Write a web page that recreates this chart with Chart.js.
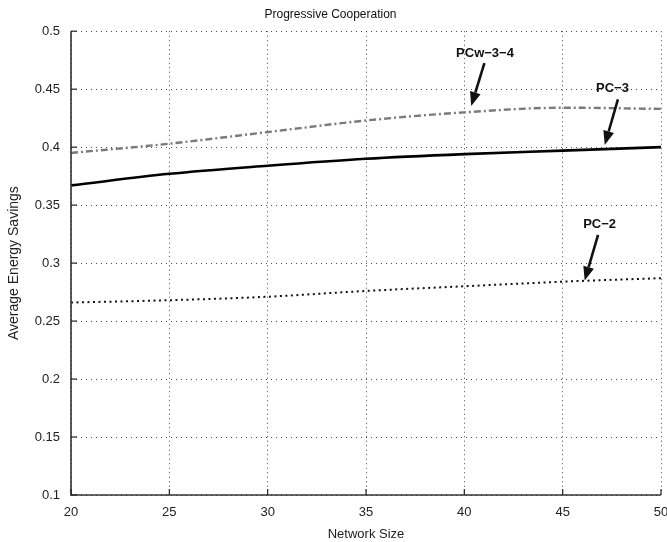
<!DOCTYPE html>
<html>
<head>
<meta charset="utf-8">
<script src="https://cdn.jsdelivr.net/npm/chart.js@4/dist/chart.umd.min.js"></script>
<style>
  html, body { margin: 0; padding: 0; background: #fff; overflow: hidden; }
  #wrap { width: 667px; height: 542px; position: relative; }
</style>
</head>
<body>
<div id="wrap"><canvas id="c" width="667" height="542"></canvas></div>
<script>
// ---- data ----
const networkSize = [20, 25, 30, 35, 40, 45, 50];
const pcw34 = [0.395, 0.403, 0.413, 0.423, 0.430, 0.434, 0.433];
const pc3   = [0.367, 0.377, 0.384, 0.390, 0.394, 0.397, 0.400];
const pc2   = [0.266, 0.268, 0.271, 0.276, 0.280, 0.284, 0.287];
const xTicks = [20, 25, 30, 35, 40, 45, 50];
const yTicks = [0.1, 0.15, 0.2, 0.25, 0.3, 0.35, 0.4, 0.45, 0.5];

// annotation labels (text, label position, arrow start, arrow tip) in data units
const noteText  = ['PCw\u22123\u22124', 'PC\u22123', 'PC\u22122'];
const noteLabel = [[41.05, 0.4805], [47.53, 0.4503], [46.88, 0.3336]];
const noteFrom  = [[41.02, 0.4725], [47.81, 0.4412], [46.80, 0.3244]];
const noteTo    = [[40.35, 0.4355], [47.14, 0.4019], [46.12, 0.2849]];

const pts = arr => networkSize.map((x, i) => ({x: x, y: arr[i]}));

const annotationPlugin = {
  id: 'notes',
  afterDatasetsDraw(chart) {
    const {ctx, scales: {x, y}} = chart;
    const {left, right, top, bottom} = chart.chartArea;
    ctx.save();
    ctx.setLineDash([]);
    // solid axis lines (left and bottom)
    ctx.strokeStyle = '#333';
    ctx.lineWidth = 1.6;
    ctx.beginPath();
    ctx.moveTo(left, y.getPixelForValue(0.5));
    ctx.lineTo(left, bottom);
    ctx.lineTo(x.getPixelForValue(50), bottom);
    ctx.stroke();
    // inward tick marks
    ctx.strokeStyle = '#222';
    ctx.lineWidth = 1.2;
    xTicks.forEach(v => {
      const px = x.getPixelForValue(v);
      ctx.beginPath(); ctx.moveTo(px, bottom); ctx.lineTo(px, bottom - 6); ctx.stroke();
    });
    yTicks.forEach(v => {
      const py = y.getPixelForValue(v);
      ctx.beginPath(); ctx.moveTo(left, py); ctx.lineTo(left + 6, py); ctx.stroke();
    });
    // labels + arrows
    ctx.fillStyle = '#111';
    ctx.strokeStyle = '#111';
    ctx.font = 'bold 13px "Liberation Sans", Arial, sans-serif';
    ctx.textAlign = 'center';
    ctx.textBaseline = 'middle';
    noteText.forEach((t, i) => {
      ctx.fillText(t, x.getPixelForValue(noteLabel[i][0]), y.getPixelForValue(noteLabel[i][1]));
      const x0 = x.getPixelForValue(noteFrom[i][0]), y0 = y.getPixelForValue(noteFrom[i][1]);
      const x1 = x.getPixelForValue(noteTo[i][0]),   y1 = y.getPixelForValue(noteTo[i][1]);
      const ang = Math.atan2(y1 - y0, x1 - x0);
      const hl = 14, hw = 5.5;
      const bx = x1 - hl * Math.cos(ang), by = y1 - hl * Math.sin(ang);
      ctx.lineWidth = 2.6;
      ctx.beginPath(); ctx.moveTo(x0, y0); ctx.lineTo(bx, by); ctx.stroke();
      ctx.beginPath();
      ctx.moveTo(x1, y1);
      ctx.lineTo(bx + hw * Math.sin(ang), by - hw * Math.cos(ang));
      ctx.lineTo(bx - hw * Math.sin(ang), by + hw * Math.cos(ang));
      ctx.closePath(); ctx.fill();
    });
    ctx.restore();
  }
};

const FONT = '"Liberation Sans", Arial, Helvetica, sans-serif';
const gridOpts = {
  color: 'rgba(30,30,30,0.8)',
  lineWidth: 1,
  drawTicks: false,
};

new Chart(document.getElementById('c'), {
  type: 'line',
  data: {
    datasets: [
      { label: 'PCw-3-4', data: pts(pcw34), borderColor: '#7a7a7a', borderWidth: 2.4,
        borderDash: [7, 3, 2, 3], pointRadius: 0, cubicInterpolationMode: 'monotone', fill: false },
      { label: 'PC-3', data: pts(pc3), borderColor: '#000', borderWidth: 2.6,
        pointRadius: 0, cubicInterpolationMode: 'monotone', fill: false },
      { label: 'PC-2', data: pts(pc2), borderColor: '#111', borderWidth: 2,
        borderDash: [2, 3.5], pointRadius: 0, cubicInterpolationMode: 'monotone', fill: false },
    ]
  },
  options: {
    responsive: false,
    animation: false,
    layout: { padding: { left: 0, right: 6, top: 0, bottom: 0 } },
    plugins: {
      legend: { display: false },
      tooltip: { enabled: false },
      title: {
        display: true,
        text: 'Progressive Cooperation',
        color: '#111',
        font: { family: FONT, size: 12, weight: 'normal' },
        padding: { top: 7.4, bottom: 9.4 }
      }
    },
    scales: {
      x: {
        type: 'linear', min: 20, max: 50,
        afterBuildTicks: s => { s.ticks = xTicks.map(v => ({value: v})); },
        afterFit: s => { s.height = 47; s.paddingRight = 0; s.paddingLeft = 0; },
        ticks: { color: '#222', font: { family: FONT, size: 13 }, padding: 10, maxRotation: 0 },
        grid: gridOpts,
        border: { display: false, dash: [1, 3.5] },
        title: { display: true, text: 'Network Size', color: '#222',
                 font: { family: FONT, size: 13 }, padding: { top: 0, bottom: 0.2 } }
      },
      y: {
        type: 'linear', min: 0.1, max: 0.5,
        afterBuildTicks: s => { s.ticks = yTicks.map(v => ({value: v})); },
        afterFit: s => { s.width = 71; },
        ticks: { color: '#222', font: { family: FONT, size: 13 }, padding: 11,
                 callback: v => String(Math.round(v * 100) / 100) },
        grid: gridOpts,
        border: { display: false, dash: [1, 4] },
        title: { display: true, text: 'Average Energy Savings', color: '#222',
                 font: { family: FONT, size: 14 }, padding: { top: 5.6, bottom: 0 } }
      }
    }
  },
  plugins: [annotationPlugin]
});
</script>
</body>
</html>
